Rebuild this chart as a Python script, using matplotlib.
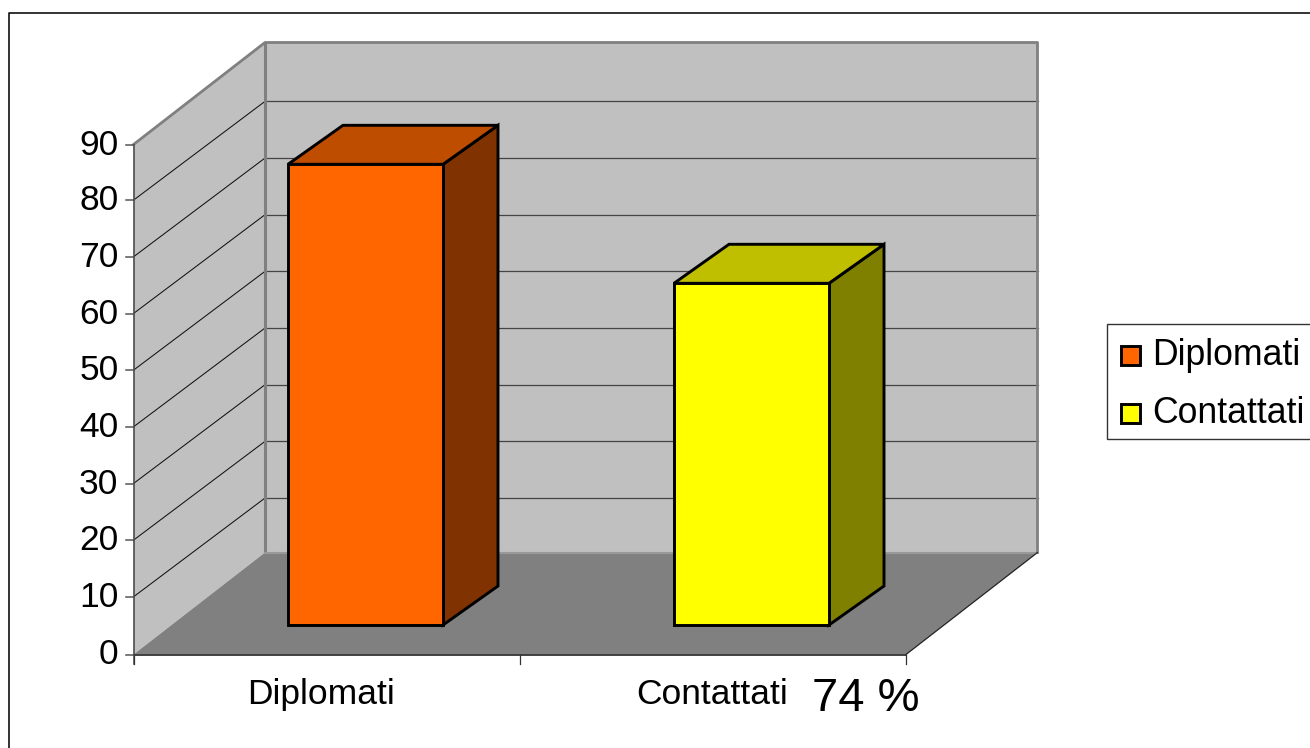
import matplotlib
matplotlib.use("Agg")
import matplotlib.pyplot as plt
from matplotlib.patches import Polygon, Rectangle

plt.rcParams['font.family'] = ['Liberation Sans', 'DejaVu Sans']

# dati
categories = ['Diplomati', 'Contattati']
values = [81.3, 60.3]
y_ticks = [0, 10, 20, 30, 40, 50, 60, 70, 80, 90]
note = '74 %'

front_colors = ['#ff6600', '#ffff00']
top_colors = ['#bf4d00', '#bfbf00']
side_colors = ['#803300', '#808000']

# geometria in pixel
x0, x1 = 133.5, 906
y0, y90 = 654.5, 144.5
dx, dy = 131.5, -102
grid_dy = -98.8
bar_dx, bar_dy = 55, -39
bar_left = [288, 674]
bar_w = 155
bar_base = 625
scale = (y0 - y90) / 90


def tick_y(t):
    # le tacche intermedie stanno circa 1 px sopra
    return y0 - t * scale - (1 if 0 < t < 90 else 0)


fig = plt.figure(figsize=(13.1, 7.48), dpi=100)
ax = fig.add_axes([0, 0, 1, 1])
ax.set_xlim(0, 1310)
ax.set_ylim(748, 0)
ax.axis('off')

# cornice esterna
ax.plot([9, 9, 1310], [748, 13, 13], color='#111111', lw=1.2)

# pareti e pavimento
ax.add_patch(Polygon([(x0, y0), (x0 + dx, y0 + dy), (x0 + dx, y90 + dy), (x0, y90)],
                     fc='#c0c0c0', ec='none'))
ax.add_patch(Rectangle((x0 + dx, y90 + dy), x1 - x0, y0 - y90, fc='#c0c0c0', ec='none'))
ax.add_patch(Polygon([(x0, y0), (x1, y0), (x1 + dx, y0 + dy), (x0 + dx, y0 + dy)],
                     fc='#808080', ec='none'))

# griglia
for t in y_ticks[1:-1]:
    y = tick_y(t)
    ax.plot([x0, x0 + dx], [y, y + grid_dy], color='#111111', lw=0.75)
    ax.plot([x0 + dx, x1 + dx], [y + grid_dy, y + grid_dy], color='#444444', lw=0.9)

# bordi pareti
ax.plot([x0, x0 + dx, x1 + dx, x1 + dx], [y90, y90 + dy, y90 + dy, y0 + dy], color='#808080', lw=2)
ax.plot([x0 + dx, x0 + dx], [y90 + dy, y0 + dy], color='#808080', lw=2.2)
ax.plot([x0 + dx, x1 + dx], [y0 + dy, y0 + dy], color='#999999', lw=1.5)
ax.plot([x1, x1 + dx], [y0, y0 + dy], color='#222222', lw=0.9)

# assi e tacche
ax.plot([x0, x0], [y90, y0 + 9], color='#444444', lw=1.1)
ax.plot([x0, x1], [y0, y0], color='#333333', lw=1.3)
for t in y_ticks:
    y = tick_y(t)
    ax.plot([x0 - 8, x0], [y, y], color='#555555', lw=1.1)
    ax.text(x0 - 15, y + 0.5, str(t), ha='right', va='center', fontsize=25.5, color='black')
for x in [x0, (x0 + x1) / 2, x1]:
    ax.plot([x, x], [y0, y0 + 9], color='#333333', lw=0.9)

# barre
for left, v, fc, tc, sc in zip(bar_left, values, front_colors, top_colors, side_colors):
    top = bar_base - v * scale
    right = left + bar_w
    kw = dict(ec='black', lw=2.1, joinstyle='miter', zorder=5)
    ax.add_patch(Polygon([(right, bar_base), (right + bar_dx, bar_base + bar_dy),
                          (right + bar_dx, top + bar_dy), (right, top)], fc=sc, **kw))
    ax.add_patch(Polygon([(left, top), (right, top), (right + bar_dx, top + bar_dy),
                          (left + bar_dx, top + bar_dy)], fc=tc, **kw))
    ax.add_patch(Rectangle((left, top), bar_w, bar_base - top, fc=fc, **kw))

# etichette categorie
ax.text(321, 694.5, categories[0], ha='center', va='center', fontsize=25.5, color='black')
ax.text(712, 694.5, categories[1], ha='center', va='center', fontsize=25.5, color='black')
ax.text(865.5, 699, note, ha='center', va='center', fontsize=34, color='black')

# legenda
ax.add_patch(Rectangle((1107, 324), 230, 115, fc='white', ec='#333333', lw=1))
for name, fc, y in zip(categories, front_colors, [355, 413]):
    ax.add_patch(Rectangle((1121, y - 9), 19, 19, fc=fc, ec='black', lw=2.1))
    ax.text(1152, y, name, ha='left', va='center', fontsize=25.7, color='black')

fig.savefig('out.png', dpi=100)
